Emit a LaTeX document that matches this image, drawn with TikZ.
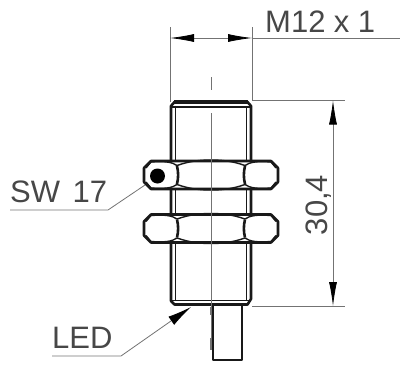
\documentclass[tikz,border=0pt]{standalone}
\usepackage{fontspec}
\setmainfont{Liberation Sans}
\usetikzlibrary{arrows.meta}
\tikzset{
  part/.style={line width=2.6pt,black!90,line join=round},
  thin wall/.style={line width=1.4pt,black!90},
  dimline/.style={line width=0.8pt,black!55},
  tipped/.style={dimline,{Latex[length=24pt,width=8pt,black]}-{Latex[length=24pt,width=8pt,black]}},
  leadertip/.style={dimline,-{Latex[length=24pt,width=10pt,black]}},
  label/.style={text=black!72,font=\fontsize{31}{31}\selectfont,inner sep=0pt},
}
\begin{document}
\begin{tikzpicture}[x=1pt,y=-1pt]
\useasboundingbox (0,0) rectangle (400,365);
% cable
\draw[part] (213,305) -- (213,360) -- (242,360) -- (242,305);
% body
\draw[part] (171,299) -- (171,106) -- (174.5,102) -- (247.5,102) -- (251,106) -- (251,299) -- (247.5,304.5) -- (174.5,304.5) -- (171,301) -- cycle;
\draw[line width=3.4pt,black!90] (174,102) -- (248,102);
\draw[thin wall] (175.5,106) -- (175.5,301) (246.5,106) -- (246.5,301) (172,107) -- (250,107) (172,300.5) -- (250,300.5);
% nuts
\foreach \y in {175,228.5} {
  \draw[part,fill=white] (144,\y-7) -- (151,\y-14) -- (271,\y-14) -- (278,\y-7) -- (278,\y+7) -- (271,\y+14) -- (151,\y+14) -- (144,\y+7) -- cycle;
  \draw[part] (177,\y-9) .. controls (178.5,\y-3) and (178.5,\y+3) .. (177,\y+9);
  \draw[part] (245,\y-9) .. controls (243.5,\y-3) and (243.5,\y+3) .. (245,\y+9);
  \foreach \s in {-1,1} {
    \draw[thin wall] (177,\y+\s*9.5) .. controls (190,\y+\s*14) and (200,\y+\s*15) .. (211,\y+\s*15);
    \draw[thin wall] (245,\y+\s*9.5) .. controls (232,\y+\s*14) and (222,\y+\s*15) .. (211,\y+\s*15);
    \draw[thin wall] (177,\y+\s*9.5) .. controls (172,\y+\s*13) and (165,\y+\s*14) .. (151,\y+\s*13);
    \draw[thin wall] (245,\y+\s*9.5) .. controls (250,\y+\s*13) and (257,\y+\s*14) .. (271,\y+\s*13);
    \draw[thin wall] (151,\y+\s*13) -- (146,\y+\s*7);
    \draw[thin wall] (271,\y+\s*13) -- (276,\y+\s*7);
  }
}
\fill[black] (157.5,176) circle (7.5);
% centre line
\draw[dimline] (211,77) -- (211,90) (211,113) -- (211,350);
\draw[dimline,line width=1.6pt] (211,307) -- (211,315) (211,338) -- (211,350);
% M12
\coordinate (m1) at (170,38);
\coordinate (m2) at (252,38);
\coordinate (mend) at (400,38);
\draw[dimline] (170,27) -- (170,102) (252,27) -- (252,100);
\draw[tipped] (m1) -- (m2);
\draw[dimline] (m2) -- (mend);
\node[label,anchor=base west] (thread) at (265,32) {M12\hspace{8.5pt}x\hspace{8.5pt}1};
% length
\coordinate (ltop) at (333,100.5);
\coordinate (lbot) at (333,306);
\draw[dimline] (252,100.5) -- (345,100.5) (252,306) -- (345,306);
\draw[tipped] (ltop) -- (lbot);
\node[label,rotate=90,anchor=base] (length) at (327,205) {30,4};
% SW 17
\node[label,anchor=base west] (sw) at (10,202) {SW\hspace{12.6pt}17};
\coordinate (sw1) at (10,210);
\coordinate (sw2) at (108,210);
\coordinate (sw3) at (145,185);
\draw[dimline] (sw1) -- (sw2) -- (sw3);
% LED
\node[label,anchor=base west] (led) at (52,348) {LED};
\coordinate (led1) at (52,356);
\coordinate (led2) at (121,356);
\coordinate (led3) at (191,307);
\draw[leadertip] (led1) -- (led2) -- (led3);
\end{tikzpicture}
\end{document}
